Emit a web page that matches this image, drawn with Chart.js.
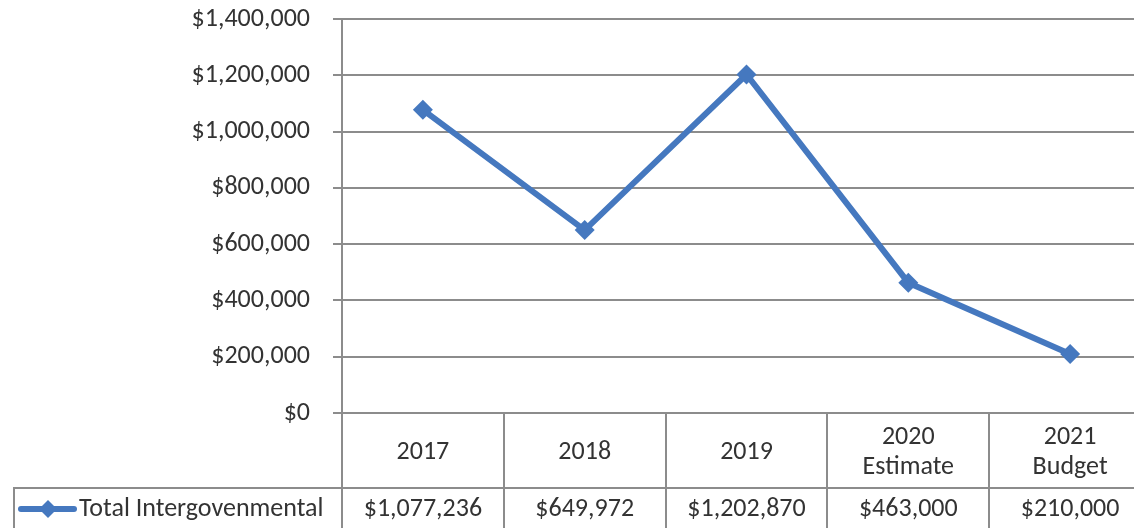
<!DOCTYPE html>
<html>
<head>
<meta charset="utf-8">
<script src="https://cdn.jsdelivr.net/npm/chart.js@4"></script>
<style>
  html, body { margin: 0; padding: 0; background: #fff; overflow: hidden; }
  #wrap { width: 1161px; height: 528px; }
</style>
</head>
<body>
<div id="wrap"><canvas id="intergov_chart" width="1161" height="528"></canvas></div>
<script>
// years shown in the data table header (second line optional)
const categories = [['2017'], ['2018'], ['2019'], ['2020', 'Estimate'], ['2021', 'Budget']];
const seriesName = 'Total Intergovenmental';
const totals = [1077236, 649972, 1202870, 463000, 210000];
const yTicks = [0, 200000, 400000, 600000, 800000, 1000000, 1200000, 1400000];

const lineBlue = '#4578bf';
const gridGray = '#8c8c8c';
const textColor = '#333';
const fontFamily = 'Carlito, Lato, sans-serif';
const fontSize = 26;

function money(v) {
    return '$' + v.toLocaleString('en-US');
}

// draws the Excel style data table under the plot, lined up with the x scale
const dataTable = {
    id: 'dataTable',
    afterDraw(chart) {
        const ctx = chart.ctx;
        const xs = chart.scales.x;
        const ys = chart.scales.y;
        const top = ys.getPixelForValue(0);
        const rowLine = top + 75;
        const bottom = top + 117;
        const half = (xs.getPixelForValue(1) - xs.getPixelForValue(0)) / 2;

        ctx.save();
        ctx.strokeStyle = gridGray;
        ctx.lineWidth = 2;
        ctx.beginPath();
        // column separators (incl. the axis carried down)
        for (let i = 0; i <= categories.length; i++) {
            const x = Math.round(xs.getPixelForValue(i) - half);
            ctx.moveTo(x, top);
            ctx.lineTo(x, bottom);
        }
        // row line and legend cell
        ctx.moveTo(13, rowLine);
        ctx.lineTo(xs.getPixelForValue(categories.length - 1) + half, rowLine);
        ctx.moveTo(14, rowLine);
        ctx.lineTo(14, bottom);
        ctx.stroke();

        ctx.fillStyle = textColor;
        ctx.font = fontSize + 'px ' + fontFamily;
        ctx.textAlign = 'center';
        ctx.textBaseline = 'middle';
        categories.forEach((lines, i) => {
            const x = xs.getPixelForValue(i);
            const lh = 30;
            const y0 = top + 39 - (lines.length - 1) * lh / 2;
            lines.forEach((t, j) => ctx.fillText(t, x, y0 + j * lh));
            ctx.fillText(money(totals[i]), x, rowLine + 21);
        });

        // legend key: line with diamond, then series name
        const ky = rowLine + 21;
        ctx.strokeStyle = lineBlue;
        ctx.lineWidth = 6;
        ctx.lineCap = 'round';
        ctx.beginPath();
        ctx.moveTo(21, ky);
        ctx.lineTo(74, ky);
        ctx.stroke();
        ctx.fillStyle = lineBlue;
        ctx.beginPath();
        ctx.moveTo(48, ky - 9);
        ctx.lineTo(57, ky);
        ctx.lineTo(48, ky + 9);
        ctx.lineTo(39, ky);
        ctx.closePath();
        ctx.fill();
        ctx.fillStyle = textColor;
        ctx.textAlign = 'left';
        ctx.fillText(seriesName, 79, ky);
        ctx.restore();
    }
};

const ctx = document.getElementById('intergov_chart').getContext('2d');
const intergov_chart = new Chart(ctx, {
    type: 'line',
    data: {
        labels: categories.map(c => c.join(' ')),
        datasets: [{
            label: seriesName,
            data: totals,
            borderColor: lineBlue,
            backgroundColor: lineBlue,
            borderWidth: 6,
            pointStyle: 'rectRot',
            pointRadius: 10,
            pointBorderWidth: 0,
            tension: 0
        }]
    },
    options: {
        responsive: false,
        animation: false,
        layout: {
            padding: { top: 19, bottom: 115, left: 0, right: 0 }
        },
        plugins: {
            legend: { display: false },
            tooltip: { enabled: false }
        },
        scales: {
            x: {
                display: false,
                offset: true
            },
            y: {
                min: 0,
                max: 1400000,
                afterBuildTicks: scale => {
                    scale.ticks = yTicks.map(v => ({ value: v }));
                },
                afterFit: scale => {
                    scale.width = 342;
                    // plot edges come from layout.padding only
                    scale.paddingTop = 0;
                    scale.paddingBottom = 0;
                },
                grid: {
                    color: gridGray,
                    lineWidth: 2,
                    tickLength: 9
                },
                border: {
                    color: gridGray,
                    width: 2
                },
                ticks: {
                    padding: 23,
                    color: textColor,
                    font: { family: fontFamily, size: fontSize },
                    callback: v => money(v)
                }
            }
        }
    },
    plugins: [dataTable]
});
</script>
</body>
</html>
